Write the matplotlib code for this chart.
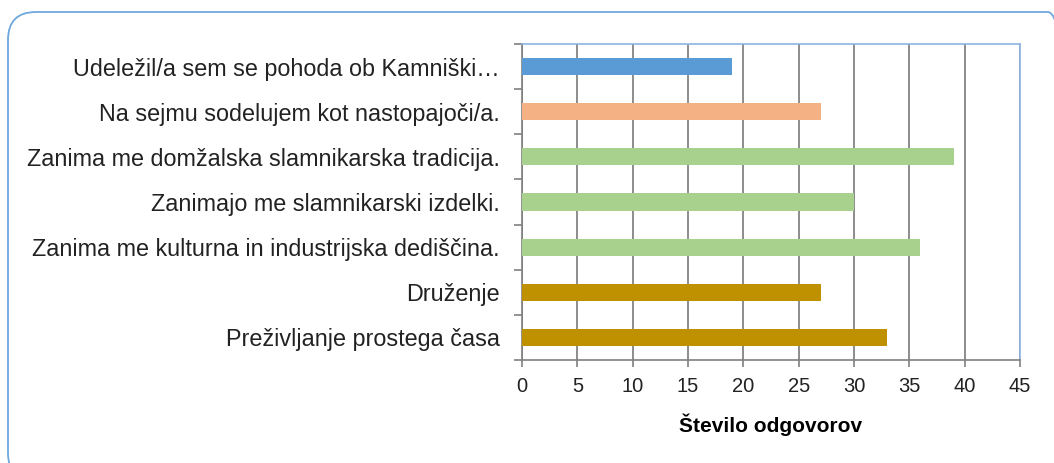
import matplotlib
matplotlib.use("Agg")
import matplotlib.pyplot as plt
import matplotlib.patches as mpatches
from matplotlib.transforms import IdentityTransform
import numpy as np

## Donnees du graphique (de haut en bas)
categories = [
    "Udeležil/a sem se pohoda ob Kamniški…",
    "Na sejmu sodelujem kot nastopajoči/a.",
    "Zanima me domžalska slamnikarska tradicija.",
    "Zanimajo me slamnikarski izdelki.",
    "Zanima me kulturna in industrijska dediščina.",
    "Druženje",
    "Preživljanje prostega časa",
]
values = [19, 27, 39, 30, 36, 27, 33]
bar_colors = ["#5B9BD5", "#F4B183", "#A9D18E", "#A9D18E", "#A9D18E",
              "#BF9000", "#BF9000"]
x_ticks = [0, 5, 10, 15, 20, 25, 30, 35, 40, 45]
x_label = "Število odgovorov"

plt.rcParams['font.family'] = ['Liberation Sans', 'DejaVu Sans']

fig = plt.figure(figsize=(10.54, 4.63), dpi=100)
fig.set_facecolor("white")

## Cadre arrondi autour du graphique (en pixels)
box = mpatches.FancyBboxPatch((8, -18), 1068, 469,
                              boxstyle="round,pad=0,rounding_size=28",
                              transform=IdentityTransform(),
                              facecolor="none", edgecolor="#6FA8DC",
                              linewidth=1.3, zorder=-1)
fig.patches.append(box)

ax = fig.add_axes([522/1054, 1-360/463, (1020-522)/1054, (360-44)/463])
ax.set_facecolor("none")

n = len(categories)
ypos = np.arange(n)
ax.barh(ypos, values, height=0.38, color=bar_colors, zorder=3)

ax.set_xlim(0, 45)
ax.set_ylim(n-0.5, -0.5)
ax.set_xticks(x_ticks)
ax.set_xticklabels([str(t) for t in x_ticks], fontsize=14.5, color="#222222")
ax.tick_params(axis="x", direction="out", length=5, width=1.2,
               color="#808080", pad=7)

## Labels centres, marques de graduation aux frontieres
ax.set_yticks(ypos)
ax.set_yticklabels(categories, fontsize=16.8, color="#222222")
ax.set_yticks(np.arange(n+1) - 0.5, minor=True)
ax.tick_params(axis="y", which="major", length=0, pad=16)
ax.tick_params(axis="y", which="minor", direction="out", length=6,
               width=1.2, color="#808080")

ax.grid(axis="x", color="#8C8C8C", linewidth=1.4, zorder=1)
ax.set_axisbelow(True)

for side in ["left", "bottom"]:
    ax.spines[side].set_color("#808080")
    ax.spines[side].set_linewidth(1.2)
for side in ["top", "right"]:
    ax.spines[side].set_color("#8DB4E2")
    ax.spines[side].set_linewidth(1.2)

ax.set_xlabel(x_label, fontsize=15, fontweight="bold", labelpad=13)

fig.savefig("out.png", dpi=100, facecolor="white")
